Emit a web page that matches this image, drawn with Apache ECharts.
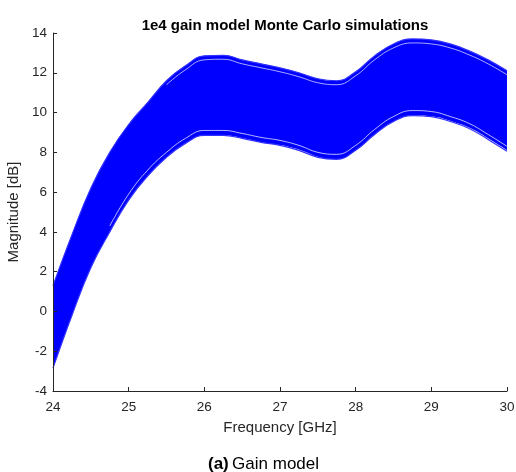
<!DOCTYPE html>
<html>
<head>
<meta charset="utf-8">
<script src="https://cdn.jsdelivr.net/npm/echarts@6/dist/echarts.min.js"></script>
<style>
html,body{margin:0;padding:0;background:#fff;}
#chart{width:516px;height:472px;}
</style>
</head>
<body>
<div id="chart"></div>
<script>
// Frequency samples [GHz]
const freq = [24, 24.25, 24.5, 24.75, 25, 25.25, 25.5, 25.75, 26, 26.25, 26.5, 26.75, 27,
              27.25, 27.5, 27.75, 28, 28.25, 28.5, 28.75, 29, 29.25, 29.5, 29.75, 30];
// Upper envelope of the Monte Carlo curves [dB]
const upperEnv = [1.3, 3.85, 6.2, 8.0, 9.4, 10.5, 11.6, 12.35, 12.85, 12.88, 12.65, 12.45, 12.25,
                  12.0, 11.7, 11.6, 12.05, 12.85, 13.45, 13.7, 13.65, 13.45, 13.1, 12.65, 12.1];
// Lower envelope of the Monte Carlo curves [dB]
const lowerEnv = [-2.85, -0.2, 2.2, 4.0, 5.6, 6.8, 7.75, 8.45, 8.85, 8.85, 8.7, 8.5, 8.35,
                  8.1, 7.75, 7.65, 8.1, 8.9, 9.55, 9.85, 9.8, 9.55, 9.2, 8.65, 8.05];
// Visible gaps between outlying curves near the top edge [dB]
const upperGap = [null, null, null, null, null, null, 11.4, 12.15, 12.65, 12.68, 12.45, 12.25, 12.05,
                  11.8, 11.5, 11.4, 11.85, 12.65, 13.25, 13.5, 13.45, 13.25, 12.9, 12.45, 11.9];
// Visible gaps between outlying curves near the bottom edge [dB]
const lowerGap = [null, null, null, 4.3, 5.9, 7.1, 8.0, 8.7, 9.1, 9.1, 8.95, 8.75, 8.6,
                  8.35, 8.0, 7.9, 8.35, 9.15, 9.8, 10.1, 10.05, 9.8, 9.45, 8.9, 8.3];
const yTicks = [-4, -2, 0, 2, 4, 6, 8, 10, 12, 14];
const xTicks = [24, 25, 26, 27, 28, 29, 30];

const pair = (ys) => freq.map((f, i) => [f, ys[i]]);

const chart = echarts.init(document.getElementById('chart'), null, {renderer: 'canvas'});
const axisCol = '#262626';
const font = '"Liberation Sans", Arial, Helvetica, sans-serif';
const sm = 0.45;

chart.setOption({
  animation: false,
  backgroundColor: '#ffffff',
  title: {
    text: '1e4 gain model Monte Carlo simulations',
    left: 280, top: 13, textAlign: 'center',
    textStyle: {fontFamily: font, fontSize: 15, fontWeight: 'bold', color: '#000'}
  },
  grid: {left: 53, right: 9, top: 33, bottom: 81, containLabel: false, outerBoundsMode: 'none'},
  xAxis: {
    type: 'value', min: xTicks[0], max: xTicks[xTicks.length - 1], interval: 1,
    name: 'Frequency [GHz]', nameLocation: 'middle', nameGap: 29,
    nameTextStyle: {fontFamily: font, fontSize: 15, color: axisCol},
    axisLine: {onZero: false, lineStyle: {color: axisCol, width: 1}},
    axisTick: {inside: true, length: 4, lineStyle: {color: axisCol}},
    axisLabel: {fontFamily: font, fontSize: 13.5, color: axisCol, margin: 9},
    splitLine: {show: false}, z: 5
  },
  yAxis: {
    type: 'value', min: yTicks[0], max: yTicks[yTicks.length - 1], interval: 2,
    name: 'Magnitude [dB]', nameLocation: 'middle', nameGap: 27.5,
    nameTextStyle: {fontFamily: font, fontSize: 15, color: axisCol},
    axisLine: {show: true, onZero: false, lineStyle: {color: axisCol, width: 1}},
    axisTick: {show: true, inside: true, length: 4, lineStyle: {color: axisCol}},
    axisLabel: {fontFamily: font, fontSize: 13.5, color: axisCol, margin: 6},
    splitLine: {show: false}, z: 5
  },
  series: [
    {
      type: 'line', data: pair(upperEnv), smooth: sm, showSymbol: false, z: 1,
      lineStyle: {color: '#3030ff', width: 1.2},
      areaStyle: {color: '#0000ff', opacity: 1, origin: 'start'}, silent: true
    },
    {
      type: 'line', data: pair(lowerEnv), smooth: sm, showSymbol: false, z: 2,
      lineStyle: {width: 0},
      areaStyle: {color: '#ffffff', opacity: 1, origin: 'start',
                  shadowColor: '#ffffff', shadowBlur: 0, shadowOffsetX: 2}, silent: true
    },
    {
      type: 'line', data: pair(lowerEnv), smooth: sm, showSymbol: false, z: 3,
      lineStyle: {color: '#3030ff', width: 1.2}, silent: true
    },
    {
      type: 'line', data: pair(upperGap), smooth: sm, showSymbol: false, z: 3,
      lineStyle: {color: '#ffffff', width: 0.9, opacity: 0.75}, silent: true
    },
    {
      type: 'line', data: pair(lowerGap), smooth: sm, showSymbol: false, z: 3,
      lineStyle: {color: '#ffffff', width: 0.9, opacity: 0.8}, silent: true
    }
  ],
  graphic: [{
    type: 'text', left: 208, top: 456,
    style: {
      text: '{b|(a)} {n|Gain model}',
      rich: {
        b: {fontFamily: font, fontSize: 17, fontWeight: 'bold', fill: '#000'},
        n: {fontFamily: font, fontSize: 17, fill: '#000'}
      }
    }
  }]
});
</script>
</body>
</html>
